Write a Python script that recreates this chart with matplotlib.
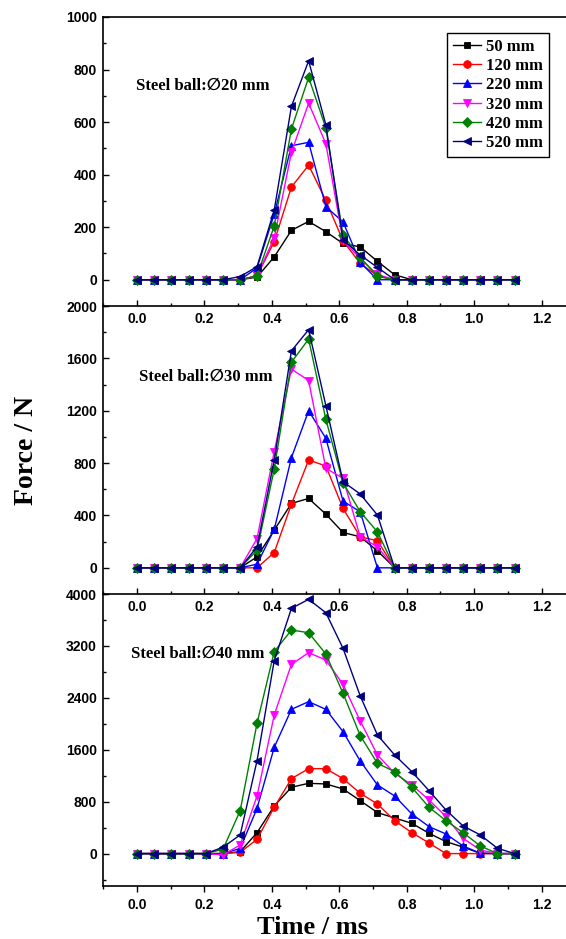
import matplotlib
matplotlib.use('Agg')
import matplotlib.pyplot as plt
from matplotlib.ticker import MultipleLocator

# time axis (ms)
time_ms = [0.0, 0.051, 0.102, 0.153, 0.204, 0.255, 0.306, 0.356, 0.407, 0.458, 0.509, 0.56,
           0.611, 0.662, 0.713, 0.764, 0.815, 0.866, 0.916, 0.967, 1.018, 1.069, 1.12]

drop_heights = ['50 mm', '120 mm', '220 mm', '320 mm', '420 mm', '520 mm']

# steel ball 20 mm
f20_50 = [0, 0, 0, 0, 0, 0, 0, 10, 87, 188, 222, 183, 138, 125, 70, 19, 0, 0, 0, 0, 0, 0, 0]
f20_120 = [0, 0, 0, 0, 0, 0, 0, 15, 145, 353, 436, 302, 148, 62, 15, 0, 0, 0, 0, 0, 0, 0, 0]
f20_220 = [0, 0, 0, 0, 0, 0, 0, 45, 250, 510, 523, 278, 220, 66, 0, 0, 0, 0, 0, 0, 0, 0, 0]
f20_320 = [0, 0, 0, 0, 0, 0, 0, 15, 160, 485, 672, 518, 150, 80, 20, 0, 0, 0, 0, 0, 0, 0, 0]
f20_420 = [0, 0, 0, 0, 0, 0, 0, 15, 205, 574, 770, 578, 170, 85, 13, 0, 0, 0, 0, 0, 0, 0, 0]
f20_520 = [0, 0, 0, 0, 0, 0, 12, 50, 265, 660, 833, 590, 152, 94, 47, 0, 0, 0, 0, 0, 0, 0, 0]

# steel ball 30 mm
f30_50 = [0, 0, 0, 0, 0, 0, 0, 84, 288, 492, 530, 410, 270, 237, 130, 0, 0, 0, 0, 0, 0, 0, 0]
f30_120 = [0, 0, 0, 0, 0, 0, 0, 0, 117, 487, 824, 778, 454, 237, 207, 0, 0, 0, 0, 0, 0, 0, 0]
f30_220 = [0, 0, 0, 0, 0, 0, 0, 28, 293, 842, 1200, 990, 510, 428, 0, 0, 0, 0, 0, 0, 0, 0, 0]
f30_320 = [0, 0, 0, 0, 0, 0, 0, 224, 888, 1518, 1431, 760, 684, 237, 160, 0, 0, 0, 0, 0, 0, 0, 0]
f30_420 = [0, 0, 0, 0, 0, 0, 0, 135, 755, 1571, 1747, 1135, 650, 428, 275, 0, 0, 0, 0, 0, 0, 0, 0]
f30_520 = [0, 0, 0, 0, 0, 0, 0, 160, 824, 1658, 1819, 1240, 658, 564, 403, 0, 0, 0, 0, 0, 0, 0, 0]

# steel ball 40 mm
f40_50 = [0, 0, 0, 0, 0, 0, 30, 323, 734, 1022, 1083, 1073, 996, 816, 632, 549, 467, 313, 185, 100, 5, 0, 0]
f40_120 = [0, 0, 0, 0, 0, 0, 20, 220, 714, 1155, 1309, 1309, 1155, 929, 765, 508, 323, 164, 0, 0, 0, 0, 0]
f40_220 = [0, 0, 0, 0, 0, 0, 80, 698, 1638, 2223, 2341, 2223, 1879, 1427, 1058, 888, 611, 416, 303, 118, 5, 0, 0]
f40_320 = [0, 0, 0, 0, 0, -20, 134, 888, 2136, 2917, 3096, 2983, 2608, 2044, 1520, 1237, 1058, 827, 570, 236, 56, 0, 0]
f40_420 = [0, 0, 0, 0, 0, 67, 662, 2008, 3112, 3445, 3404, 3076, 2470, 1818, 1392, 1263, 1022, 714, 508, 323, 118, 0, 0]
f40_520 = [0, 0, 0, 0, 0, 98, 288, 1433, 2973, 3779, 3918, 3712, 3163, 2429, 1828, 1520, 1263, 970, 673, 426, 288, 82, 0]

colors = ['black', 'red', 'blue', 'magenta', '#008000', '#000080']
markers = ['s', 'o', '^', 'v', 'D', '<']
msizes = [5, 5.5, 6, 6, 5, 6]

SERIF = ['Liberation Serif', 'DejaVu Sans']
SANS = ['Liberation Sans', 'DejaVu Sans']

fig = plt.figure(figsize=(5.66, 9.39), dpi=100)

left, width = 0.1825, 0.834
panels = [
    # (bottom, height, data, ylim, major, minor, label, label_xy)
    (0.6741, 0.3078, [f20_50, f20_120, f20_220, f20_320, f20_420, f20_520],
     (-100, 1000), 200, 100, 'Steel ball:\u220520 mm', (0.2398, 0.9087)),
    (0.3674, 0.3067, [f30_50, f30_120, f30_220, f30_320, f30_420, f30_520],
     (-200, 2000), 400, 200, 'Steel ball:\u220530 mm', (0.2461, 0.5988)),
    (0.0564, 0.3110, [f40_50, f40_120, f40_220, f40_320, f40_420, f40_520],
     (-500, 4000), 800, 400, 'Steel ball:\u220540 mm', (0.2314, 0.3035)),
]

axes = []
for i, (bot, h, series, ylim, major, minor, label, lxy) in enumerate(panels):
    ax = fig.add_axes([left, bot, width, h], zorder=10 - i)
    ax.patch.set_alpha(0)
    for ys, c, m, ms, name in zip(series, colors, markers, msizes, drop_heights):
        ax.plot(time_ms, ys, color=c, marker=m, markersize=ms, linewidth=1.0,
                markeredgewidth=0.6, label=name, clip_on=False)
    ax.set_xlim(-0.1, 1.3)
    ax.set_ylim(*ylim)
    ax.xaxis.set_major_locator(MultipleLocator(0.2))
    ax.xaxis.set_minor_locator(MultipleLocator(0.1))
    ax.yaxis.set_major_locator(MultipleLocator(major))
    ax.yaxis.set_minor_locator(MultipleLocator(minor))
    xdir = 'out' if i == 2 else 'in'
    ax.tick_params(axis='x', which='both', direction=xdir, top=False, width=1.0, pad=4)
    ax.tick_params(axis='y', which='both', direction='in', right=False, width=1.0, pad=4.5)
    ax.tick_params(which='major', length=4.5)
    ax.tick_params(which='minor', length=2.5)
    ax.set_xticklabels([f'{v:.1f}' for v in ax.get_xticks()])
    for t in ax.get_xticklabels() + ax.get_yticklabels():
        t.set_family(SANS)
        t.set_fontweight('bold')
        t.set_fontsize(10)
    ax.set_xlim(-0.1, 1.3)
    for s in ax.spines.values():
        s.set_linewidth(1.2)
    ax.spines['right'].set_visible(False)
    if i > 0:
        ax.spines['top'].set_visible(False)
    fig.text(lxy[0], lxy[1], label, family=SERIF, fontweight='bold', fontsize=12,
             va='center', ha='left')
    axes.append(ax)

leg = axes[0].legend(loc='upper right', bbox_to_anchor=(0.970, 0.9652),
                     bbox_transform=fig.transFigure, frameon=True, fancybox=False,
                     framealpha=1, edgecolor='black', handlelength=1.7,
                     handletextpad=0.3, labelspacing=0.2, borderpad=0.35,
                     borderaxespad=0,
                     prop={'family': SERIF, 'weight': 'bold', 'size': 12})
leg.get_frame().set_linewidth(1.0)

fig.text(0.047, 0.5208, 'Force / N', rotation=90, family=SERIF, fontweight='bold',
         fontsize=20, va='center', ha='center')
fig.text(0.553, 0.0125, 'Time / ms', family=SERIF, fontweight='bold',
         fontsize=19, va='center', ha='center')

fig.savefig('out.png', dpi=100)
